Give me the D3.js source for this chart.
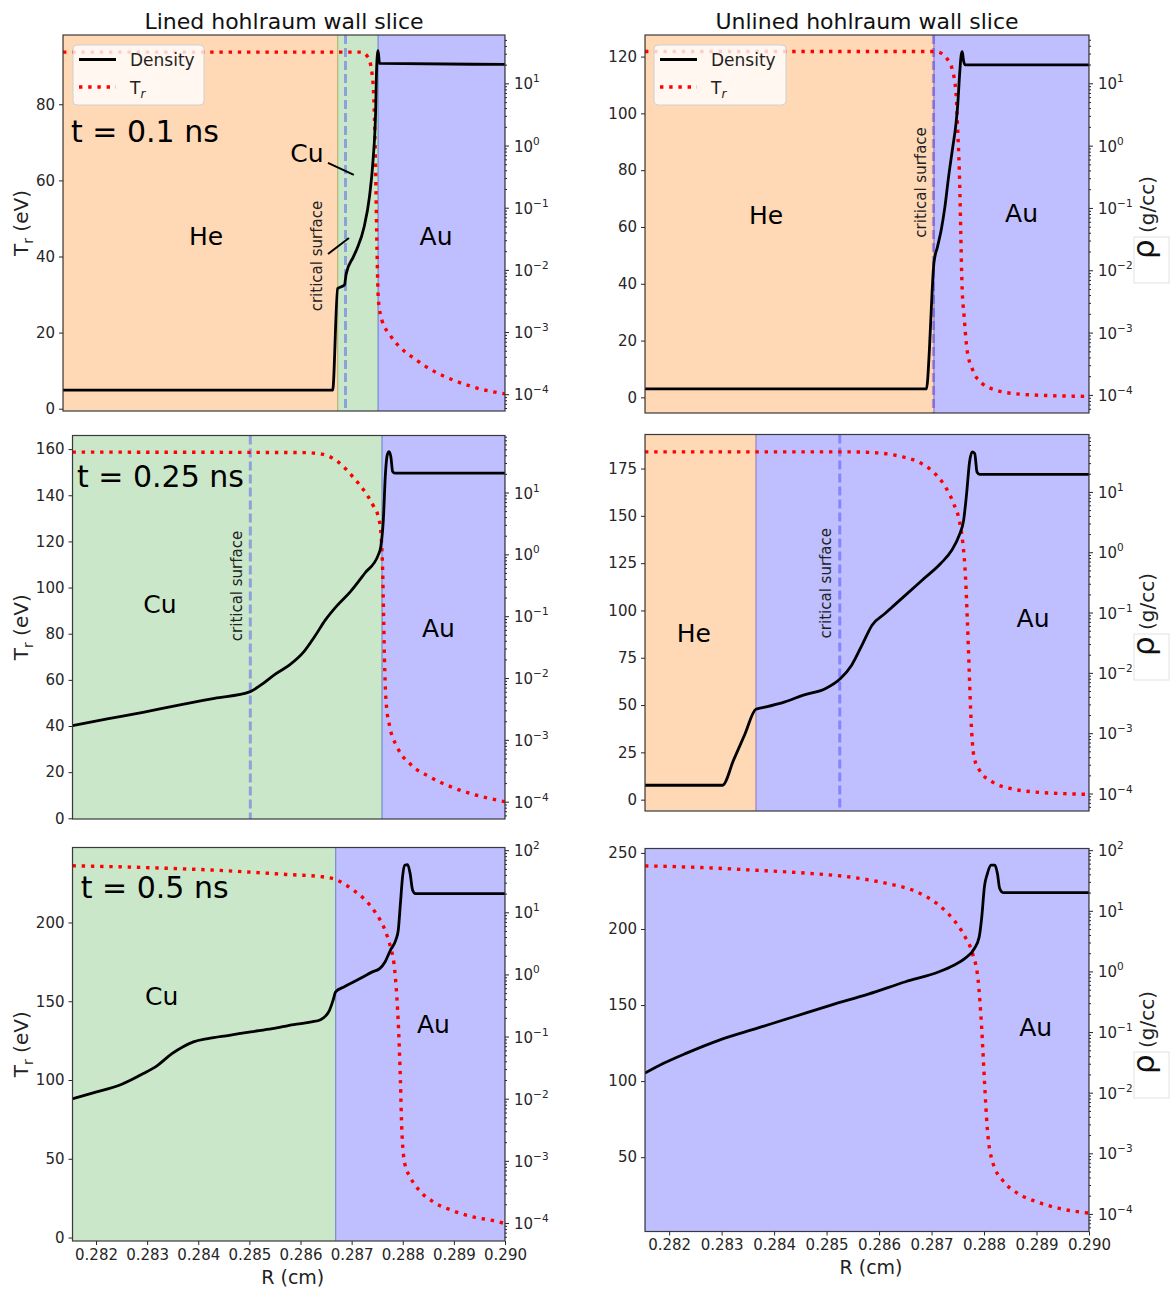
<!DOCTYPE html>
<html>
<head>
<meta charset="utf-8">
<script src="https://cdn.jsdelivr.net/npm/d3@7"></script>
<style>
  body { margin: 0; background: #fff; }
  svg { display: block; }
  text { font-family: "DejaVu Sans", "Liberation Sans", sans-serif; }
</style>
</head>
<body>
<svg id="fig" width="1170" height="1290"></svg>
<script>
// ---------------- data ----------------
// radial coordinate (cm)
const rDomain = [0.28154, 0.290];
const rTicks = [0.282, 0.283, 0.284, 0.285, 0.286, 0.287, 0.288, 0.289, 0.290];

// Lined hohlraum, t = 0.1 ns
const lined01DensR = [0.28154, 0.286701, 0.286797, 0.286927, 0.286961, 0.287098, 0.287167, 0.287303, 0.287406, 0.287475, 0.287523, 0.287544, 0.287571, 0.287598, 0.290];
const lined01Dens  = [1.16e-4, 1.16e-4, 5.0e-3, 5.7e-3, 8.7e-3, 1.62e-2, 2.19e-2, 4.9e-2, 0.151, 0.589, 3.31, 18.5, 33.6, 20.9, 20.2];
const lined01TrR = [0.28154, 0.287235, 0.287372, 0.287454, 0.287495, 0.287523, 0.287550, 0.287577, 0.287646, 0.287783, 0.287988, 0.288262, 0.288604, 0.289015, 0.289494, 0.290];
const lined01Tr  = [93.7, 93.7, 92.5, 88.2, 79.4, 63.6, 41.7, 28.5, 23.2, 19.7, 16.2, 13.2, 10.1, 7.5, 5.3, 3.9];
const lined01Materials = ["He", "Cu", "Au"];
const lined01Bounds = [0.286797, 0.28757];
const lined01Critical = 0.286947;
const lined01TrTicks = [0, 20, 40, 60, 80];

// Unlined hohlraum, t = 0.1 ns
const unlined01DensR = [0.28154, 0.286903, 0.286959, 0.287009, 0.287044, 0.287114, 0.287184, 0.287255, 0.287325, 0.287396, 0.287466, 0.287501, 0.287536, 0.287565, 0.287586, 0.287607, 0.287642, 0.290];
const unlined01Dens  = [1.25e-4, 1.25e-4, 5.27e-4, 4.28e-3, 1.29e-2, 2.40e-2, 4.44e-2, 0.105, 0.318, 0.851, 2.28, 4.78, 14.5, 28.5, 32.2, 23.7, 19.7, 19.7];
const unlined01TrR = [0.28154, 0.287044, 0.287184, 0.287290, 0.287396, 0.287466, 0.287501, 0.287536, 0.287557, 0.287579, 0.287621, 0.287677, 0.287783, 0.287959, 0.288240, 0.288592, 0.289296, 0.290];
const unlined01Tr  = [121.8, 121.8, 121.2, 119.4, 115.3, 107.1, 93.0, 75.4, 57.8, 40.2, 28.4, 16.7, 9.7, 5.0, 2.5, 1.3, 0.6, 0.35];
const unlined01Materials = ["He", "Au"];
const unlined01Bounds = [0.287044];
const unlined01Critical = 0.287035;
const unlined01TrTicks = [0, 20, 40, 60, 80, 100, 120];

// Lined hohlraum, t = 0.25 ns
const lined025DensR = [0.28154, 0.282219, 0.282918, 0.283618, 0.284318, 0.285018, 0.285227, 0.285507, 0.285787, 0.286067, 0.286277, 0.286487, 0.286697, 0.286977, 0.287257, 0.287522, 0.287571, 0.287620, 0.287662, 0.287697, 0.287732, 0.287767, 0.287802, 0.287844, 0.290];
const lined025Dens  = [1.70e-3, 2.18e-3, 2.79e-3, 3.66e-3, 4.70e-3, 6.03e-3, 7.73e-3, 1.16e-2, 1.63e-2, 2.67e-2, 4.68e-2, 8.71e-2, 0.143, 0.250, 0.495, 0.98, 1.34, 3.61, 20.6, 40.7, 46.0, 38.0, 21.9, 20.6, 20.6];
const lined025TrR = [0.28154, 0.286067, 0.286417, 0.286627, 0.286837, 0.287047, 0.287257, 0.287431, 0.287537, 0.287578, 0.287606, 0.287627, 0.287648, 0.287676, 0.287746, 0.287886, 0.288166, 0.288516, 0.288936, 0.289426, 0.290];
const lined025Tr  = [158.7, 158.5, 157.8, 156.1, 152.5, 147.4, 141.6, 135.1, 129.4, 122.1, 107.7, 86.0, 64.3, 49.9, 39.7, 31.1, 23.1, 18.1, 13.7, 10.1, 7.2];
const lined025Materials = ["Cu", "Au"];
const lined025Bounds = [0.287593];
const lined025Critical = 0.285018;
const lined025TrTicks = [0, 20, 40, 60, 80, 100, 120, 140, 160];

// Unlined hohlraum, t = 0.25 ns
const unlined025DensR = [0.28154, 0.283017, 0.283229, 0.283441, 0.283653, 0.283851, 0.284205, 0.284558, 0.284982, 0.285265, 0.285477, 0.285689, 0.285866, 0.286113, 0.286466, 0.286820, 0.287173, 0.287385, 0.287527, 0.287611, 0.287668, 0.287724, 0.287774, 0.287823, 0.287866, 0.287915, 0.290];
const unlined025Dens  = [1.37e-4, 1.37e-4, 3.61e-4, 9.5e-4, 2.50e-3, 2.73e-3, 3.30e-3, 4.27e-3, 5.50e-3, 8.05e-3, 1.34e-2, 3.06e-2, 6.17e-2, 9.62e-2, 0.182, 0.344, 0.649, 1.08, 1.91, 3.39, 9.38, 31.4, 46.0, 43.2, 21.4, 19.6, 19.6];
const unlined025TrR = [0.28154, 0.285406, 0.285972, 0.286396, 0.286749, 0.287032, 0.287244, 0.287421, 0.287527, 0.287597, 0.287647, 0.287682, 0.287717, 0.287753, 0.287809, 0.287915, 0.288163, 0.288516, 0.288940, 0.289506, 0.290];
const unlined025Tr  = [183.8, 183.8, 183.3, 181.5, 178.5, 173.2, 166.2, 156.5, 147.7, 135.3, 117.7, 94.8, 68.4, 42.0, 22.6, 15.5, 9.3, 5.8, 4.1, 3.2, 2.8];
const unlined025Materials = ["He", "Au"];
const unlined025Bounds = [0.283653];
const unlined025Critical = 0.285251;
const unlined025TrTicks = [0, 25, 50, 75, 100, 125, 150, 175];

// Lined hohlraum, t = 0.5 ns
const lined05DensR = [0.28154, 0.281944, 0.282504, 0.282925, 0.283205, 0.283485, 0.283695, 0.283905, 0.284186, 0.284606, 0.285026, 0.285447, 0.285867, 0.286217, 0.286392, 0.286567, 0.286637, 0.286687, 0.286848, 0.287128, 0.287408, 0.287548, 0.287653, 0.287758, 0.287863, 0.287912, 0.287954, 0.287996, 0.288039, 0.288095, 0.288144, 0.288193, 0.288249, 0.290];
const lined05Dens  = [1.00e-2, 1.24e-2, 1.71e-2, 2.54e-2, 3.45e-2, 5.32e-2, 6.81e-2, 8.20e-2, 9.29e-2, 0.105, 0.119, 0.134, 0.156, 0.172, 0.187, 0.265, 0.384, 0.524, 0.630, 0.826, 1.10, 1.24, 1.59, 2.45, 3.56, 5.15, 13.8, 37.2, 57.3, 58.7, 42.1, 22.7, 20.0, 20.0];
const lined05TrR = [0.28154, 0.282925, 0.284326, 0.285727, 0.286427, 0.286687, 0.286988, 0.287268, 0.287478, 0.287653, 0.287758, 0.287828, 0.287884, 0.287919, 0.287954, 0.287982, 0.288039, 0.288144, 0.288319, 0.288599, 0.288949, 0.289370, 0.289790, 0.290];
const lined05Tr  = [236.0, 234.9, 233.2, 230.5, 229.0, 227.3, 221.6, 214.2, 205.7, 195.1, 184.6, 174.0, 152.8, 131.6, 99.9, 68.1, 47.0, 38.5, 30.1, 22.6, 17.4, 13.1, 10.6, 8.9];
const lined05Materials = ["Cu", "Au"];
const lined05Bounds = [0.286687];
const lined05TrTicks = [0, 50, 100, 150, 200];

// Unlined hohlraum, t = 0.5 ns
const unlined05DensR = [0.28154, 0.281894, 0.282319, 0.282957, 0.283667, 0.284376, 0.285085, 0.285794, 0.286504, 0.287142, 0.287426, 0.287638, 0.287816, 0.287908, 0.287957, 0.288007, 0.288064, 0.288135, 0.288206, 0.288255, 0.288298, 0.288362, 0.290];
const unlined05Dens  = [2.1e-2, 3.05e-2, 4.45e-2, 7.38e-2, 0.115, 0.179, 0.279, 0.423, 0.676, 0.989, 1.27, 1.64, 2.39, 3.72, 7.96, 24.9, 41.2, 56.6, 56.6, 41.2, 23.3, 20.0, 20.0];
const unlined05TrR = [0.28154, 0.282603, 0.283667, 0.284730, 0.285440, 0.286149, 0.286716, 0.287142, 0.287426, 0.287638, 0.287780, 0.287887, 0.287957, 0.288007, 0.288064, 0.288170, 0.288348, 0.288631, 0.288986, 0.289411, 0.290];
const unlined05Tr  = [241.5, 240.4, 238.6, 236.4, 234.2, 229.9, 224.4, 215.6, 205.8, 194.9, 183.9, 166.4, 133.6, 100.8, 68.0, 46.1, 35.1, 26.4, 20.9, 16.5, 13.2];
const unlined05Materials = ["Au"];
const unlined05Bounds = [];
const unlined05TrTicks = [50, 100, 150, 200, 250];

// ---------------- styling ----------------
const materialColor = { He: "#ff7f0e", Cu: "#2ca02c", Au: "#0000ff" };
const materialAlpha = { He: 0.3, Cu: 0.25, Au: 0.25 };
const tickColor = "#262626";
const FONT = "'DejaVu Sans', 'Liberation Sans', sans-serif";

// panel layout: pixel box [left, top, right, bottom], axis ranges, annotations (axes fractions)
const panels = [
  { id: "l01", box: [63, 35, 505, 411], trDomain: [-0.6, 98.2], densExp: [-4.27, 1.778],
    densR: lined01DensR, dens: lined01Dens, trR: lined01TrR, tr: lined01Tr,
    materials: lined01Materials, bounds: lined01Bounds, critical: lined01Critical, trTicks: lined01TrTicks,
    time: { text: "t = 0.1 ns", fx: 0.018, fy: 0.284 },
    labels: [ { text: "He", fx: 0.3235, fy: 0.5585 }, { text: "Au", fx: 0.844, fy: 0.5585 }, { text: "Cu", fx: 0.552, fy: 0.337 } ],
    crit: { fx: 0.5747, fy: 0.588 },
    pointers: [ [0.5995, 0.340, 0.658, 0.372], [0.5995, 0.5824, 0.647, 0.540] ],
    legend: { dx: 10, dy: 10, w: 131, h: 60 },
    yLabel: true, rhoLabel: false, xAxis: false },
  { id: "u01", box: [645, 35, 1089, 413], trDomain: [-5.5, 127.6], densExp: [-4.29, 1.775],
    densR: unlined01DensR, dens: unlined01Dens, trR: unlined01TrR, tr: unlined01Tr,
    materials: unlined01Materials, bounds: unlined01Bounds, critical: unlined01Critical, trTicks: unlined01TrTicks,
    labels: [ { text: "He", fx: 0.2725, fy: 0.5 }, { text: "Au", fx: 0.848, fy: 0.495 } ],
    crit: { fx: 0.6216, fy: 0.39 },
    legend: { dx: 9, dy: 10, w: 132, h: 60 },
    yLabel: false, rhoLabel: { rhoStart: 259 }, xAxis: false },
  { id: "l025", box: [72.5, 435.5, 505, 819], trDomain: [-0.3, 165.9], densExp: [-4.28, 1.922],
    densR: lined025DensR, dens: lined025Dens, trR: lined025TrR, tr: lined025Tr,
    materials: lined025Materials, bounds: lined025Bounds, critical: lined025Critical, trTicks: lined025TrTicks,
    time: { text: "t = 0.25 ns", fx: 0.0104, fy: 0.1335 },
    labels: [ { text: "Cu", fx: 0.2023, fy: 0.4628 }, { text: "Au", fx: 0.846, fy: 0.5254 } ],
    crit: { fx: 0.380, fy: 0.3924 },
    yLabel: true, rhoLabel: false, xAxis: false },
  { id: "u025", box: [645, 434.5, 1089, 811], trDomain: [-6.0, 193], densExp: [-4.29, 1.952],
    densR: unlined025DensR, dens: unlined025Dens, trR: unlined025TrR, tr: unlined025Tr,
    materials: unlined025Materials, bounds: unlined025Bounds, critical: unlined025Critical, trTicks: unlined025TrTicks,
    labels: [ { text: "He", fx: 0.110, fy: 0.551 }, { text: "Au", fx: 0.874, fy: 0.512 } ],
    crit: { fx: 0.4068, fy: 0.395 },
    yLabel: false, rhoLabel: { rhoStart: 656 }, xAxis: false },
  { id: "l05", box: [72.5, 847.5, 505, 1241], trDomain: [-2.2, 247.6], densExp: [-4.29, 2.043],
    densR: lined05DensR, dens: lined05Dens, trR: lined05TrR, tr: lined05Tr,
    materials: lined05Materials, bounds: lined05Bounds, critical: null, trTicks: lined05TrTicks,
    time: { text: "t = 0.5 ns", fx: 0.019, fy: 0.1296 },
    labels: [ { text: "Cu", fx: 0.2062, fy: 0.4009 }, { text: "Au", fx: 0.8347, fy: 0.472 } ],
    yLabel: true, rhoLabel: false, xAxis: { labelY: 1284 } },
  { id: "u05", box: [645, 848.5, 1089, 1231.5], trDomain: [1.15, 252.9], densExp: [-4.29, 2.028],
    densR: unlined05DensR, dens: unlined05Dens, trR: unlined05TrR, tr: unlined05Tr,
    materials: unlined05Materials, bounds: unlined05Bounds, critical: null, trTicks: unlined05TrTicks,
    labels: [ { text: "Au", fx: 0.880, fy: 0.4896 } ],
    yLabel: false, rhoLabel: { rhoStart: 1074 }, xAxis: { labelY: 1274 } }
];

const svg = d3.select("#fig");
const defs = svg.append("defs");

// column titles
svg.append("text").attr("x", 284).attr("y", 29).attr("text-anchor", "middle")
  .attr("font-size", 22).attr("fill", "#111").text("Lined hohlraum wall slice");
svg.append("text").attr("x", 867).attr("y", 29).attr("text-anchor", "middle")
  .attr("font-size", 22).attr("fill", "#111").text("Unlined hohlraum wall slice");

function drawPanel(p) {
  const [x0, y0, x1, y1] = p.box;
  const w = x1 - x0, h = y1 - y0;
  const at = (fx, fy) => [x0 + fx * w, y0 + fy * h];

  const x = d3.scaleLinear().domain(rDomain).range([x0, x1]);
  const yT = d3.scaleLinear().domain(p.trDomain).range([y1, y0]);
  const yD = d3.scaleLog().domain([Math.pow(10, p.densExp[0]), Math.pow(10, p.densExp[1])]).range([y1, y0]);

  const g = svg.append("g");
  defs.append("clipPath").attr("id", "clip-" + p.id)
    .append("rect").attr("x", x0).attr("y", y0).attr("width", w).attr("height", h);
  const plot = g.append("g").attr("clip-path", `url(#clip-${p.id})`);

  // material regions
  const edges = [rDomain[0], ...p.bounds, rDomain[1]];
  plot.selectAll("rect.region").data(p.materials).join("rect")
    .attr("class", "region")
    .attr("x", (d, i) => x(edges[i]))
    .attr("width", (d, i) => x(edges[i + 1]) - x(edges[i]))
    .attr("y", y0 - 2).attr("height", h + 4)
    .attr("fill", d => materialColor[d]).attr("fill-opacity", d => materialAlpha[d])
    .attr("stroke", d => materialColor[d]).attr("stroke-opacity", d => materialAlpha[d])
    .attr("stroke-width", 1.2);

  // critical surface
  if (p.critical != null) {
    plot.append("line")
      .attr("x1", x(p.critical)).attr("x2", x(p.critical))
      .attr("y1", y0).attr("y2", y1)
      .attr("stroke", "#0000ff").attr("stroke-opacity", 0.3)
      .attr("stroke-width", 3).attr("stroke-dasharray", "9 4");
  }

  // radiation temperature
  const trLine = d3.line().x(d => x(d[0])).y(d => yT(d[1])).curve(d3.curveMonotoneX);
  plot.append("path").datum(d3.zip(p.trR, p.tr)).attr("d", trLine)
    .attr("fill", "none").attr("stroke", "#ff0000").attr("stroke-width", 3.4)
    .attr("stroke-dasharray", "3.4 5.8");

  // density
  const densLine = d3.line().x(d => x(d[0])).y(d => yD(d[1])).curve(d3.curveMonotoneX);
  plot.append("path").datum(d3.zip(p.densR, p.dens)).attr("d", densLine)
    .attr("fill", "none").attr("stroke", "#000").attr("stroke-width", 2.8)
    .attr("stroke-linejoin", "round");

  // frame
  g.append("rect").attr("x", x0).attr("y", y0).attr("width", w).attr("height", h)
    .attr("fill", "none").attr("stroke", "#3a3a3a").attr("stroke-width", 1.2);

  // left Tr axis
  const axL = g.append("g").attr("transform", `translate(${x0},0)`)
    .call(d3.axisLeft(yT).tickValues(p.trTicks).tickSize(4).tickPadding(4));
  axL.select(".domain").remove();
  axL.selectAll("line").attr("stroke", tickColor);
  axL.selectAll("text").attr("font-size", 15).attr("font-family", FONT).attr("fill", tickColor);

  // right density axis (log)
  const lo = Math.ceil(p.densExp[0]), hi = Math.floor(p.densExp[1]);
  const majors = d3.range(lo, hi + 1).map(e => Math.pow(10, e));
  const minors = [];
  for (let e = Math.floor(p.densExp[0]); e <= hi; e++) {
    for (let m = 2; m <= 9; m++) {
      const v = m * Math.pow(10, e);
      if (Math.log10(v) >= p.densExp[0] && Math.log10(v) <= p.densExp[1]) minors.push(v);
    }
  }
  const axR = g.append("g").attr("transform", `translate(${x1},0)`)
    .call(d3.axisRight(yD).tickValues(majors).tickSize(4).tickFormat(""));
  axR.select(".domain").remove();
  axR.selectAll("line").attr("stroke", tickColor);
  const axRm = g.append("g").attr("transform", `translate(${x1},0)`)
    .call(d3.axisRight(yD).tickValues(minors).tickSize(2).tickFormat(""));
  axRm.select(".domain").remove();
  axRm.selectAll("line").attr("stroke", tickColor);
  majors.forEach(v => {
    const e = Math.round(Math.log10(v));
    const t = g.append("text").attr("x", x1 + 9).attr("y", yD(v) + 6)
      .attr("font-size", 15).attr("fill", tickColor).text("10");
    t.append("tspan").attr("dy", -7).attr("font-size", 10.5)
      .text(e < 0 ? "\u2212" + Math.abs(e) : String(e));
  });

  // bottom radius axis
  if (p.xAxis) {
    const axB = g.append("g").attr("transform", `translate(0,${y1})`)
      .call(d3.axisBottom(x).tickValues(rTicks).tickSize(4).tickPadding(4).tickFormat(d3.format(".3f")));
    axB.select(".domain").remove();
    axB.selectAll("line").attr("stroke", tickColor);
    axB.selectAll("text").attr("font-size", 15).attr("font-family", FONT).attr("fill", tickColor);
    g.append("text").attr("x", (x0 + x1) / 2 + 4).attr("y", p.xAxis.labelY)
      .attr("text-anchor", "middle").attr("font-size", 19).attr("fill", "#222").text("R (cm)");
  }

  // Tr axis title
  if (p.yLabel) {
    const cy = (y0 + y1) / 2;
    const t = g.append("text").attr("transform", `translate(28,${cy}) rotate(-90)`)
      .attr("text-anchor", "middle").attr("font-size", 20).attr("fill", "#222");
    t.append("tspan").text("T");
    t.append("tspan").attr("font-size", 14).attr("dy", 5).text("r");
    t.append("tspan").attr("dy", -5).text(" (eV)");
  }

  // density axis title
  if (p.rhoLabel) {
    const ys = p.rhoLabel.rhoStart;
    g.append("rect").attr("x", 1134).attr("y", ys - 22).attr("width", 35).attr("height", 46)
      .attr("fill", "#fff").attr("stroke", "#e2e2e2").attr("stroke-width", 1);
    const t = g.append("text").attr("transform", `translate(1154,${ys}) rotate(-90)`)
      .attr("text-anchor", "start").attr("fill", "#111");
    t.append("tspan").attr("font-size", 31).text("\u03C1");
    t.append("tspan").attr("font-size", 20).attr("fill", "#222").text(" (g/cc)");
  }

  // annotations
  if (p.time) {
    const [tx, ty] = at(p.time.fx, p.time.fy);
    g.append("text").attr("x", tx).attr("y", ty).attr("font-size", 30).attr("fill", "#000").text(p.time.text);
  }
  p.labels.forEach(l => {
    const [lx, ly] = at(l.fx, l.fy);
    g.append("text").attr("x", lx).attr("y", ly).attr("text-anchor", "middle")
      .attr("font-size", 25).attr("fill", "#000").text(l.text);
  });
  if (p.crit) {
    const [cx, cy] = at(p.crit.fx, p.crit.fy);
    g.append("text").attr("transform", `translate(${cx},${cy}) rotate(-90)`)
      .attr("text-anchor", "middle").attr("dominant-baseline", "central")
      .attr("font-size", 15).attr("fill", "#222").text("critical surface");
  }
  (p.pointers || []).forEach(pt => {
    const [ax, ay] = at(pt[0], pt[1]);
    const [bx, by] = at(pt[2], pt[3]);
    g.append("line").attr("x1", ax).attr("y1", ay).attr("x2", bx).attr("y2", by)
      .attr("stroke", "#000").attr("stroke-width", 2);
  });

  // legend
  if (p.legend) {
    const lx = x0 + p.legend.dx, ly = y0 + p.legend.dy;
    const lg = g.append("g").attr("transform", `translate(${lx},${ly})`);
    lg.append("rect").attr("width", p.legend.w).attr("height", p.legend.h).attr("rx", 4)
      .attr("fill", "#fff").attr("fill-opacity", 0.8).attr("stroke", "#d0d0d0").attr("stroke-width", 1);
    lg.append("line").attr("x1", 6).attr("x2", 43).attr("y1", 14.5).attr("y2", 14.5)
      .attr("stroke", "#000").attr("stroke-width", 2.8);
    lg.append("text").attr("x", 57).attr("y", 20.5).attr("font-size", 17).attr("fill", "#222").text("Density");
    lg.append("line").attr("x1", 6).attr("x2", 43).attr("y1", 42).attr("y2", 42)
      .attr("stroke", "#ff0000").attr("stroke-width", 3.4).attr("stroke-dasharray", "3.4 5.8");
    const tt = lg.append("text").attr("x", 57).attr("y", 48.5).attr("font-size", 17).attr("fill", "#222");
    tt.append("tspan").text("T");
    tt.append("tspan").attr("font-size", 12).attr("font-style", "italic").attr("dy", 4).text("r");
  }
}

panels.forEach(drawPanel);
</script>
</body>
</html>
